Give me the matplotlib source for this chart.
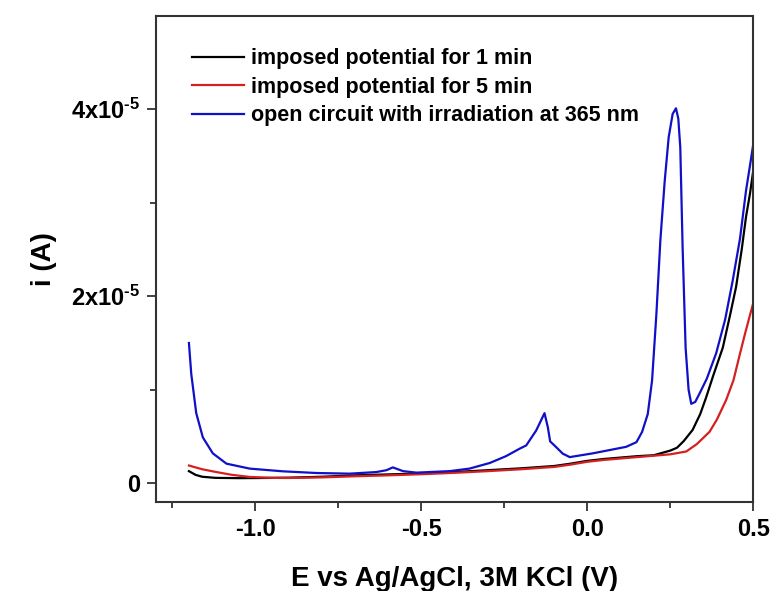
"""
Linear sweep voltammograms -- imposed potential vs open circuit under 365 nm.
"""

import matplotlib
matplotlib.use("Agg")
import matplotlib.pyplot as plt
from matplotlib.ticker import MultipleLocator, FixedLocator

plt.rcParams["font.family"] = "Liberation Sans"
plt.rcParams["font.weight"] = "bold"
plt.rcParams["axes.unicode_minus"] = False
plt.rcParams["mathtext.fontset"] = "custom"
plt.rcParams["mathtext.rm"] = "Liberation Sans:bold"
plt.rcParams["mathtext.bf"] = "Liberation Sans:bold"
plt.rcParams["mathtext.default"] = "bf"

# current values in units of 1e-5 A
e_1min = [-1.2, -1.18, -1.16, -1.12, -1.05, -1.0, -0.9, -0.8, -0.7, -0.6, -0.5,
          -0.4, -0.3, -0.2, -0.1, -0.05, 0.0, 0.05, 0.1, 0.15, 0.2, 0.25, 0.27,
          0.29, 0.317, 0.34, 0.358, 0.38, 0.408, 0.43, 0.448, 0.465, 0.478, 0.49, 0.5]
i_1min = [0.13, 0.09, 0.07, 0.058, 0.055, 0.056, 0.06, 0.07, 0.085, 0.095, 0.105,
          0.12, 0.14, 0.16, 0.185, 0.21, 0.24, 0.26, 0.275, 0.29, 0.30, 0.35, 0.38,
          0.45, 0.57, 0.74, 0.92, 1.16, 1.45, 1.8, 2.1, 2.5, 2.85, 3.1, 3.35]

e_5min = [-1.2, -1.16, -1.117, -1.07, -1.017, -0.95, -0.9, -0.8, -0.7, -0.6, -0.5,
          -0.4, -0.3, -0.2, -0.1, -0.05, 0.0, 0.05, 0.1, 0.15, 0.2, 0.25, 0.298,
          0.33, 0.368, 0.39, 0.418, 0.44, 0.458, 0.475, 0.49, 0.5]
i_5min = [0.19, 0.15, 0.12, 0.09, 0.068, 0.058, 0.057, 0.063, 0.075, 0.085, 0.097,
          0.112, 0.13, 0.15, 0.175, 0.2, 0.23, 0.25, 0.265, 0.28, 0.295, 0.31, 0.34,
          0.42, 0.55, 0.68, 0.89, 1.1, 1.36, 1.6, 1.8, 1.93]

e_irr = [-1.2, -1.193, -1.178, -1.158, -1.128, -1.087, -1.017, -0.917, -0.816,
         -0.716, -0.636, -0.605, -0.586, -0.555, -0.515, -0.415, -0.355, -0.294,
         -0.245, -0.204, -0.184, -0.154, -0.129, -0.119, -0.112, -0.094, -0.074,
         -0.053, 0.016, 0.117, 0.148, 0.165, 0.182, 0.195, 0.208, 0.22, 0.233,
         0.245, 0.257, 0.267, 0.274, 0.28, 0.287, 0.296, 0.305, 0.313, 0.325,
         0.338, 0.36, 0.388, 0.415, 0.438, 0.46, 0.478, 0.49, 0.5]
i_irr = [1.50, 1.17, 0.75, 0.49, 0.32, 0.21, 0.157, 0.128, 0.11, 0.103, 0.12,
         0.14, 0.17, 0.13, 0.114, 0.13, 0.157, 0.217, 0.29, 0.37, 0.405, 0.565,
         0.75, 0.60, 0.448, 0.387, 0.317, 0.28, 0.32, 0.39, 0.44, 0.55, 0.74,
         1.1, 1.81, 2.6, 3.23, 3.7, 3.95, 4.01, 3.9, 3.59, 2.52, 1.45, 1.0, 0.85,
         0.87, 0.96, 1.12, 1.39, 1.75, 2.17, 2.62, 3.13, 3.4, 3.63]

labels = ["imposed potential for 1 min", "imposed potential for 5 min",
          "open circuit with irradiation at 365 nm"]
colors = ["#000000", "#d42020", "#1010c8"]

xtick_vals = [-1.0, -0.5, 0.0, 0.5]
xtick_labels = ["-1.0", "-0.5", "0.0", "0.5"]
ytick_vals = [0, 2, 4]
ytick_labels = ["0", r"2x10$^{\text{-5}}$", r"4x10$^{\text{-5}}$"]

fig = plt.figure(figsize=(7.74, 5.91), dpi=100)
ax = fig.add_axes([0.2012, 0.1506, 0.7721, 0.8228])

scale = 1e-5
for e, i, c, lab in [(e_1min, i_1min, colors[0], labels[0]),
                     (e_5min, i_5min, colors[1], labels[1]),
                     (e_irr, i_irr, colors[2], labels[2])]:
    ax.plot(e, [v * scale for v in i], color=c, linewidth=1.6, label=lab)

ax.set_xlim(-1.3, 0.5)
ax.set_ylim(-0.2e-5, 5.0e-5)
ax.set_xticks(xtick_vals)
ax.set_xticklabels(xtick_labels)
ax.xaxis.set_minor_locator(MultipleLocator(0.25))
ax.set_yticks([v * scale for v in ytick_vals])
ax.set_yticklabels(ytick_labels)
ax.yaxis.set_minor_locator(FixedLocator([1e-5, 3e-5]))

ax.tick_params(which="major", direction="out", length=6.5, width=1.3,
               labelsize=17, pad=5, color="#333333")
ax.tick_params(which="minor", direction="out", length=4, width=1.3, color="#333333")
for sp in ax.spines.values():
    sp.set_linewidth(1.5)
    sp.set_color("#333333")

ax.set_xlabel("E vs Ag/AgCl, 3M KCl (V)", fontsize=20, fontweight="bold", labelpad=18)
ax.set_ylabel("i (A)", fontsize=20, fontweight="bold", labelpad=10)

ax.legend(loc="upper left", bbox_to_anchor=(0.047, 0.951), frameon=False,
          fontsize=15.5, handlelength=2.4, handletextpad=0.3, labelspacing=0.35,
          borderaxespad=0)

fig.savefig("out.png", dpi=100)
